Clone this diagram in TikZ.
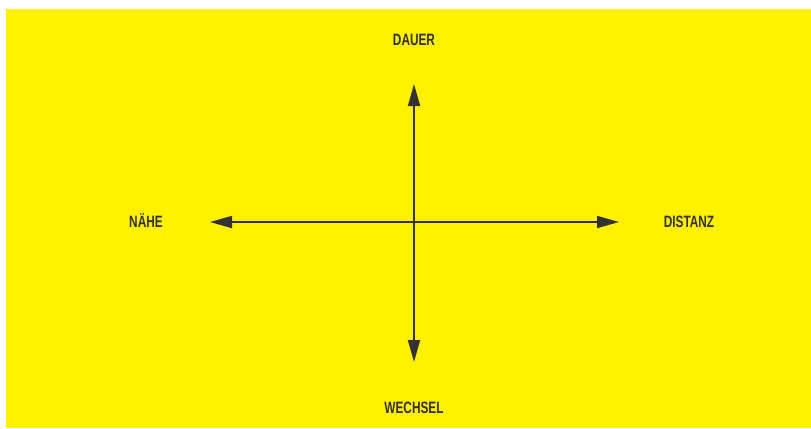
\documentclass[tikz,border=0pt]{standalone}
\usepackage{fontspec}
\setsansfont{Liberation Sans}[FakeStretch=0.72]
\usepackage{tikz}
\usetikzlibrary{arrows.meta, positioning}
\definecolor{signal}{HTML}{FFF100}
\definecolor{ink}{HTML}{333333}

\begin{document}
\begin{tikzpicture}[
    x=1bp, y=-1bp,
    every node/.style={font=\sffamily\bfseries\fontsize{16.5}{19}\selectfont, text=ink},
    pole/.style={inner sep=0pt, text height=11.8bp, text depth=0bp, anchor=center},
    axis/.style={{Triangle[length=22bp, width=12bp]}-{Triangle[length=22bp, width=12bp]}, line width=1.8bp, draw=ink}
]

% BACKGROUND
\useasboundingbox[fill=white] (0,0) rectangle (811,428);
\fill[signal] (6,9) rectangle (811,428);

% AXIS ENDS
\coordinate (top) at (414,84);
\coordinate (bottom) at (414,362);
\coordinate (left) at (210,222);
\coordinate (right) at (619,222);

% LABELS
\node[pole] (dauer) at (414,40) {DAUER};
\node[pole] (wechsel) at (414,408) {WECHSEL};
\node[pole] (naehe) at (146,222) {NÄHE};
\node[pole] (distanz) at (689,222) {DISTANZ};

% ARROWS
\draw[axis] (left) -- (right);
\draw[axis] (top) -- (bottom);

\end{tikzpicture}
\end{document}
